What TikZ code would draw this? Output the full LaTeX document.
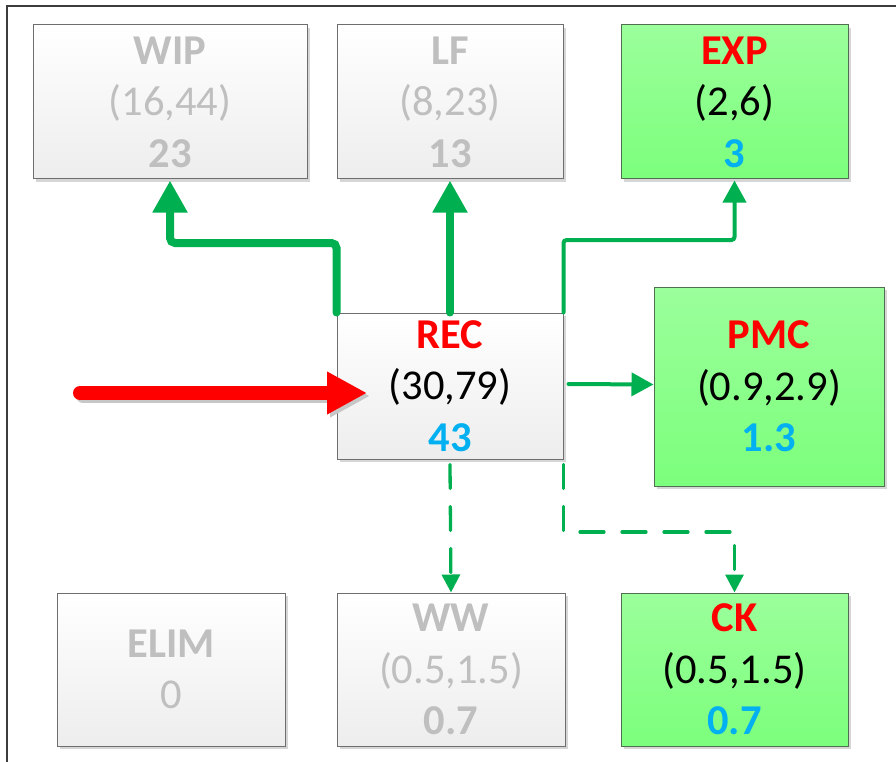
\documentclass[tikz,border=0pt]{standalone}
\usepackage{fontspec}
\setmainfont{Carlito}
\usetikzlibrary{arrows.meta,shadows,calc}
\definecolor{tred}{RGB}{255,0,0}
\definecolor{tblue}{RGB}{0,176,240}
\definecolor{tgray}{RGB}{191,191,191}
\definecolor{lgreen}{RGB}{0,176,80}
\definecolor{gtop}{RGB}{155,255,155}
\definecolor{gbot}{RGB}{124,255,124}
\definecolor{gborder}{RGB}{80,110,80}
\definecolor{bborder}{RGB}{110,110,110}
\definecolor{framec}{RGB}{60,60,60}
\tikzset{
  box/.style={line width=1pt, align=center, inner sep=0pt,
    font=\fontsize{42.5}{51.5}\selectfont,
    drop shadow={shadow xshift=3pt, shadow yshift=-3pt, fill=black!16, opacity=1}},
  graybox/.style={box, draw=bborder, top color=white, bottom color=black!7, text=tgray},
  greenbox/.style={box, draw=gborder, top color=gtop, bottom color=gbot, text=black},
  thickg/.style={draw=lgreen, line width=8pt, rounded corners=5pt, line cap=round,
    -{Triangle[length=32pt,width=33pt]}},
  midg/.style={draw=lgreen, line width=4pt, rounded corners=3pt, line cap=round,
    -{Triangle[length=22pt,width=23pt]}},
  dashg/.style={draw=lgreen, line width=3.3pt, line cap=round, dash pattern=on 24pt off 18pt,
    -{Triangle[length=18pt,width=18pt]}},
  redarrow/.style={draw=tred, line width=14pt, line cap=round,
    -{Triangle[length=40pt,width=40pt]}},
}
\begin{document}
\begin{tikzpicture}[x=1pt,y=-1pt]
\useasboundingbox (0,0) rectangle (896,762);
\draw[framec, line width=1.5pt] (7,762) -- (7,6) -- (896,6);

\node[graybox, minimum width=274pt, minimum height=154pt] (wip) at (170,102)
  {\textbf{WIP}\\(16,44)\\\textbf{23}};
\node[graybox, minimum width=226pt, minimum height=154pt] (lf) at (450,102)
  {\textbf{LF}\\(8,23)\\\textbf{13}};
\node[greenbox, minimum width=227pt, minimum height=154pt] (exp) at (734.5,102)
  {\textcolor{tred}{\textbf{EXP}}\\(2,6)\\\textcolor{tblue}{\textbf{3}}};
\node[graybox, minimum width=226pt, minimum height=146pt] (rec) at (450,386)
  {\textcolor{tred}{\textbf{REC}}\\\textcolor{black}{(30,79)}\\\textcolor{tblue}{\textbf{43}}};
\node[greenbox, minimum width=230pt, minimum height=199pt] (pmc) at (769,386.5)
  {\textcolor{tred}{\textbf{PMC}}\\(0.9,2.9)\\\textcolor{tblue}{\textbf{1.3}}};
\node[graybox, minimum width=228pt, minimum height=153pt] (elim) at (171,669.5)
  {\textbf{ELIM}\\0};
\node[graybox, minimum width=228pt, minimum height=153pt] (ww) at (451,669.5)
  {\textbf{WW}\\(0.5,1.5)\\\textbf{0.7}};
\node[greenbox, minimum width=227pt, minimum height=153pt] (ck) at (734.5,669.5)
  {\textcolor{tred}{\textbf{CK}}\\(0.5,1.5)\\\textcolor{tblue}{\textbf{0.7}}};

\coordinate (yw) at (0,243);
\coordinate (ye) at (0,240);
\coordinate (yc) at (0,532);
\coordinate (redstart) at (80,393);
\coordinate (redtip) at (367,393);

\draw[thickg] (rec.north west) -- (rec.north west |- yw) -| ([yshift=-1pt]wip.south);
\draw[thickg] (rec.north) -- ([yshift=-1pt]lf.south);
\draw[midg] (rec.north east) -- (rec.north east |- ye) -| ([yshift=-1pt]exp.south);
\draw[midg] ([xshift=5pt,yshift=2pt]rec.east) -- ([yshift=2pt]pmc.west);
\draw[dashg] ([yshift=-5pt]rec.south) -- (ww.north);
\draw[dashg] ([yshift=-5pt]rec.south east) -- (rec.south east |- yc) -| (ck.north);

\draw[redarrow, draw=black!22] ([shift={(3pt,-3pt)}]redstart) -- ([shift={(3pt,-3pt)}]redtip);
\draw[redarrow] (redstart) -- (redtip);
\end{tikzpicture}
\end{document}
